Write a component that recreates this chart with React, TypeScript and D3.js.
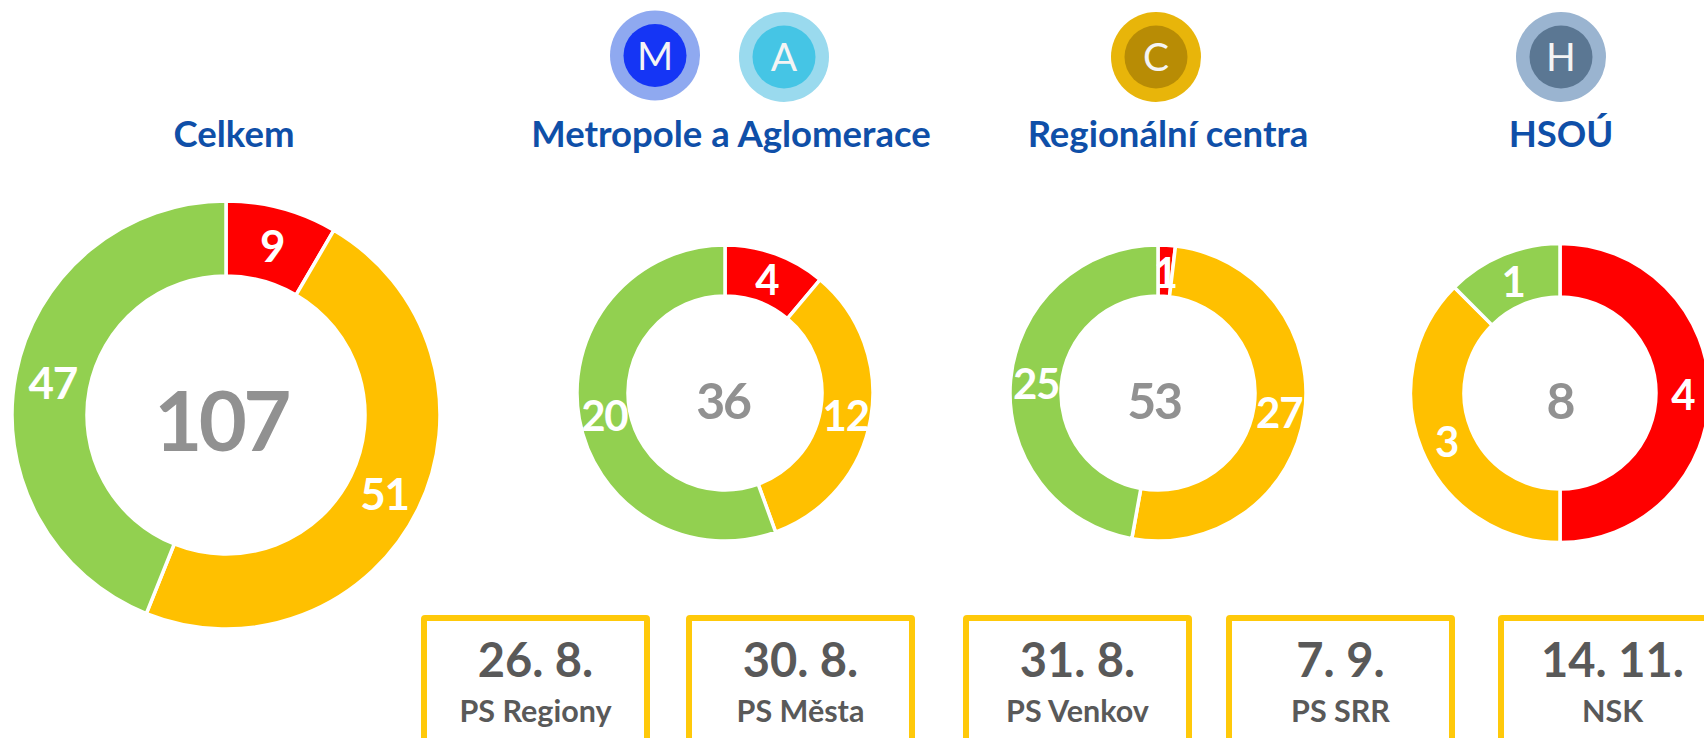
import * as d3 from "d3";

const FONT = "Lato, Carlito, sans-serif";

// red, orange, green - clockwise from the top
const statusColors = ["#ff0000", "#ffc000", "#92d050"];

const celkemValues = [9, 51, 47];
const metropoleValues = [4, 12, 20];
const centraValues = [1, 27, 25];
const hsouValues = [4, 3, 1];

const titles = ["Celkem", "Metropole a Aglomerace", "Regionální centra", "HSOÚ"];
const totals = ["107", "36", "53", "8"];

const dates = ["26. 8.", "30. 8.", "31. 8.", "7. 9.", "14. 11."];
const bodies = ["PS Regiony", "PS Města", "PS Venkov", "PS SRR", "NSK"];
const boxLefts = [421, 686, 963, 1226, 1498];

const badgeLetters = ["M", "A", "C", "H"];
const badgeX = [655, 784, 1156, 1561];
const badgeY = [55.5, 57, 57, 57];
const badgeOuter = ["#8fa9f0", "#9adaee", "#e8b50a", "#9ab4d0"];
const badgeInner = ["#1535f5", "#45c5e5", "#b88c05", "#5b7793"];

const titleX = [234, 731, 1168, 1561];

const donuts = [
  { values: celkemValues, cx: 226, cy: 415, outer: 214, inner: 139, label: 44, total: 83, totalX: 221, totalY: 451 },
  { values: metropoleValues, cx: 725, cy: 393, outer: 148, inner: 97, label: 42, total: 50, totalX: 723, totalY: 419 },
  { values: centraValues, cx: 1158, cy: 393, outer: 148, inner: 97, label: 42, total: 50, totalX: 1154, totalY: 419 },
  { values: hsouValues, cx: 1560, cy: 393, outer: 149.5, inner: 96, label: 42, total: 50, totalX: 1560, totalY: 419 },
];

const pie = d3.pie<number>().sort(null).value((d) => d);

function Donut({ d, total }: { d: (typeof donuts)[number]; total: string }) {
  const arc = d3.arc<d3.PieArcDatum<number>>().innerRadius(d.inner).outerRadius(d.outer);
  const slices = pie(d.values);
  return (
    <g transform={`translate(${d.cx},${d.cy})`}>
      {slices.map((s, i) => (
        <path key={i} d={arc(s) as string} fill={statusColors[i]} stroke="#fff" strokeWidth={3.5} />
      ))}
      {slices.map((s, i) => {
        const [x, y] = arc.centroid(s);
        return (
          <text
            key={i}
            x={x}
            y={y + 2}
            dy="0.36em"
            textAnchor="middle"
            fill="#fff"
            fontWeight={700}
            fontSize={d.label}
            letterSpacing="-0.03em"
          >
            {s.data}
          </text>
        );
      })}
      <text
        x={d.totalX - d.cx}
        y={d.totalY - d.cy}
        textAnchor="middle"
        fill="#919191"
        fontWeight={700}
        fontSize={d.total}
        letterSpacing="-0.044em"
      >
        {total}
      </text>
    </g>
  );
}

export default function App() {
  return (
    <svg
      width={1704}
      height={738}
      fontFamily={FONT}
      style={{ position: "absolute", left: 0, top: 0, background: "#fff" }}
    >
      {badgeLetters.map((l, i) => (
        <g key={l} transform={`translate(${badgeX[i]},${badgeY[i]})`}>
          <circle r={45} fill={badgeOuter[i]} />
          <circle r={31.5} fill={badgeInner[i]} />
          <text y={14} textAnchor="middle" fill="#f4f4f4" fontSize={39}>
            {l}
          </text>
        </g>
      ))}

      {titles.map((t, i) => (
        <text key={t} x={titleX[i]} y={147} textAnchor="middle" fill="#0f4fa8" fontWeight={700} fontSize={36.5}>
          {t}
        </text>
      ))}

      {donuts.map((d, i) => (
        <Donut key={i} d={d} total={totals[i]} />
      ))}

      {dates.map((date, i) => (
        <g key={date} transform={`translate(${boxLefts[i]},0)`}>
          <rect x={3} y={618} width={223} height={140} fill="none" stroke="#ffc90a" strokeWidth={6} rx={1} />
          <text x={114.5} y={677} textAnchor="middle" fill="#595959" fontWeight={700} fontSize={47}>
            {date}
          </text>
          <text x={114.5} y={722} textAnchor="middle" fill="#595959" fontWeight={700} fontSize={30.5}>
            {bodies[i]}
          </text>
        </g>
      ))}
    </svg>
  );
}
